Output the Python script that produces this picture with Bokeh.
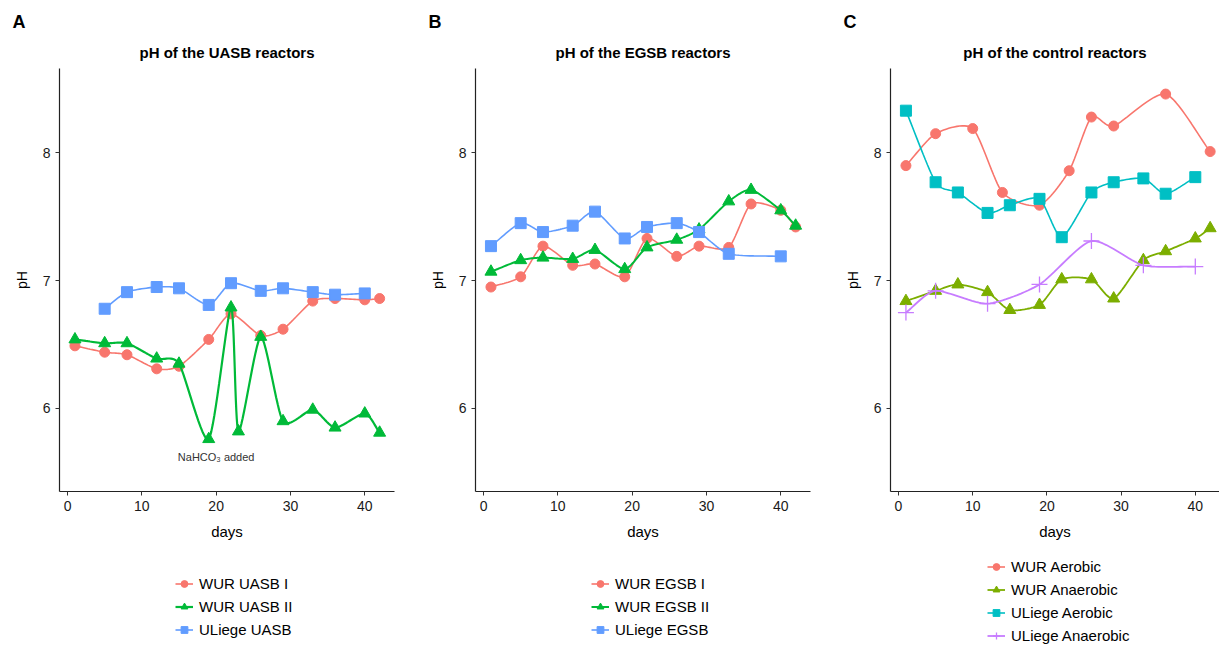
from bokeh.plotting import figure
from bokeh.layouts import row, column
from bokeh.models import Legend, LegendItem, Title, Range1d, FixedTicker, Label
from bokeh.embed import file_html
from bokeh.resources import INLINE
import numpy as np

# ---------------- data ----------------
# Panel A: UASB reactors
a_days_wur1 = [1, 5, 8, 12, 15, 19, 22, 26, 29, 33, 36, 40, 42]
a_ph_wur1 = [6.49, 6.44, 6.42, 6.31, 6.33, 6.54, 6.74, 6.57, 6.62, 6.84, 6.86, 6.85, 6.86]
a_days_wur2 = [1, 5, 8, 12, 15, 19, 22, 23, 26, 29, 33, 36, 40, 42]
a_ph_wur2 = [6.54, 6.51, 6.51, 6.39, 6.35, 5.76, 6.79, 5.82, 6.56, 5.90, 5.99, 5.85, 5.96, 5.81]
a_days_ul = [5, 8, 12, 15, 19, 22, 26, 29, 33, 36, 40]
a_ph_ul = [6.78, 6.91, 6.95, 6.94, 6.81, 6.98, 6.92, 6.94, 6.91, 6.89, 6.90]

# Panel B: EGSB reactors
b_days_wur1 = [1, 5, 8, 12, 15, 19, 22, 26, 29, 33, 36, 40, 42]
b_ph_wur1 = [6.95, 7.03, 7.27, 7.12, 7.13, 7.03, 7.33, 7.19, 7.27, 7.26, 7.60, 7.55, 7.42]
b_days_wur2 = [1, 5, 8, 12, 15, 19, 22, 26, 29, 33, 36, 40, 42]
b_ph_wur2 = [7.07, 7.16, 7.18, 7.17, 7.24, 7.09, 7.26, 7.32, 7.40, 7.62, 7.71, 7.55, 7.43]
b_days_ul = [1, 5, 8, 12, 15, 19, 22, 26, 29, 33, 40]
b_ph_ul = [7.27, 7.45, 7.38, 7.43, 7.54, 7.33, 7.42, 7.45, 7.38, 7.21, 7.19]

# Panel C: control reactors
c_days_wur_aer = [1, 5, 10, 14, 19, 23, 26, 29, 36, 42]
c_ph_wur_aer = [7.90, 8.15, 8.19, 7.69, 7.59, 7.86, 8.28, 8.21, 8.46, 8.01]
c_days_wur_ana = [1, 5, 8, 12, 15, 19, 22, 26, 29, 33, 36, 40, 42]
c_ph_wur_ana = [6.84, 6.92, 6.97, 6.91, 6.77, 6.81, 7.01, 7.01, 6.86, 7.16, 7.23, 7.33, 7.41]
c_days_ul_aer = [1, 5, 8, 12, 15, 19, 22, 26, 29, 33, 36, 40]
c_ph_ul_aer = [8.33, 7.77, 7.69, 7.53, 7.59, 7.64, 7.34, 7.69, 7.77, 7.80, 7.68, 7.81]
c_days_ul_ana = [1, 5, 12, 19, 26, 33, 40]
c_ph_ul_ana = [6.75, 6.92, 6.82, 6.97, 7.31, 7.12, 7.11]

titles = ["pH of the UASB reactors", "pH of the EGSB reactors", "pH of the control reactors"]
letters = ["A", "B", "C"]
x_ticks = [0, 10, 20, 30, 40]
y_ticks = [6, 7, 8]

RED, GREEN, BLUE = "#F8766D", "#00BA38", "#619CFF"
RED4, OLIVE4, CYAN4, PURP4 = "#F8766D", "#7CAE00", "#00BFC4", "#C77CFF"
FONT = "Liberation Sans"

X_PX = 7.42   # px per day (used only for smoothing aspect)
Y_PX = 128.3  # px per pH unit
TOP_H = 551   # height of the chart row
LEG_H = 94    # height of the legend row


def smooth(xs, ys, n=16, k=0.7):
    """Cardinal-spline path through the data points (rendering only)."""
    P = np.column_stack([np.asarray(xs, float) * X_PX, np.asarray(ys, float) * Y_PX])
    if len(P) < 3:
        return list(xs), list(ys)
    ext = np.vstack([2 * P[0] - P[1], P, 2 * P[-1] - P[-2]])
    out = []
    for i in range(1, len(ext) - 2):
        p0, p1, p2, p3 = ext[i - 1], ext[i], ext[i + 1], ext[i + 2]
        m1 = k * (p2 - p0) / 2.0
        m2 = k * (p3 - p1) / 2.0
        for t in np.linspace(0, 1, n, endpoint=False):
            h00 = 2 * t**3 - 3 * t**2 + 1
            h10 = t**3 - 2 * t**2 + t
            h01 = -2 * t**3 + 3 * t**2
            h11 = t**3 - t**2
            out.append(h00 * p1 + h10 * m1 + h01 * p2 + h11 * m2)
    out.append(P[-1])
    out = np.array(out)
    return list(out[:, 0] / X_PX), list(out[:, 1] / Y_PX)


def make_panel(idx, left, frame_w, x_end, right):
    p = figure(frame_width=frame_w, frame_height=423,
               min_border_left=left, min_border_right=right,
               min_border_top=68, min_border_bottom=TOP_H - 68 - 423,
               x_range=Range1d(-1.08, x_end), y_range=Range1d(5.35, 8.66),
               output_backend="svg", toolbar_location=None,
               background_fill_color="white", border_fill_color="white",
               outline_line_color=None)
    p.grid.visible = False
    p.title = Title(text=letters[idx], align="left", offset=-47,
                    text_font=FONT, text_font_size="18px",
                    text_font_style="bold", text_color="#000000", standoff=6)
    p.add_layout(Title(text=titles[idx], align="center", text_font=FONT,
                       text_font_size="15px", text_font_style="bold",
                       text_color="#000000", standoff=15), "above")
    for ax in (p.xaxis[0], p.yaxis[0]):
        ax.axis_line_color = "#222222"
        ax.axis_line_width = 1.2
        ax.major_tick_line_color = "#333333"
        ax.major_tick_in = 0
        ax.major_tick_out = 4
        ax.minor_tick_line_color = None
        ax.major_label_text_font = FONT
        ax.major_label_text_font_size = "14px"
        ax.major_label_text_color = "#1a1a1a"
        ax.axis_label_text_font = FONT
        ax.axis_label_text_font_style = "normal"
        ax.axis_label_text_color = "#000000"
    p.xaxis.ticker = FixedTicker(ticks=x_ticks)
    p.yaxis.ticker = FixedTicker(ticks=y_ticks)
    p.xaxis.axis_label = "days"
    p.xaxis.axis_label_text_font_size = "15px"
    p.xaxis.axis_label_standoff = 9
    p.yaxis.axis_label = "pH"
    p.yaxis.axis_label_text_font_size = "14px"
    p.yaxis.axis_label_standoff = 10
    return p


def draw(p, xs, ys, color, marker, size, lw):
    lr = p.line(xs, ys, line_color=color, line_width=lw)
    if marker == "cross":
        sr = p.scatter(xs, ys, marker="cross", size=size, line_color=color,
                       line_width=1.3)
    else:
        sr = p.scatter(xs, ys, marker=marker, size=size, fill_color=color,
                       line_color=color, line_width=1)
    return lr, sr


def series(p, lf, xs, ys, color, marker, size, lw, label):
    sx, sy = smooth(xs, ys)
    p.line(sx, sy, line_color=color, line_width=lw)
    if marker == "cross":
        p.scatter(xs, ys, marker="cross", size=size, line_color=color, line_width=1.3)
    else:
        p.scatter(xs, ys, marker=marker, size=size, fill_color=color,
                  line_color=color, line_width=1)
    # legend key: style-only proxy (a single NaN row, nothing is plotted)
    nan = np.array([np.nan])
    lr, sr = draw(lf, nan, nan, color, marker, size, lw)
    return LegendItem(label=label, renderers=[lr, sr])


def legend_fig(width):
    lf = figure(width=width, height=LEG_H, x_axis_type=None, y_axis_type=None,
                x_range=Range1d(0, 1), y_range=Range1d(0, 1),
                output_backend="svg", toolbar_location=None, min_border=0,
                outline_line_color=None, background_fill_color="white",
                border_fill_color="white")
    return lf


def add_legend(lf, items, loc):
    leg = Legend(items=items, location=loc, orientation="vertical",
                 label_text_font=FONT, label_text_font_size="15px",
                 label_text_color="#000000", glyph_width=18, glyph_height=17,
                 label_height=17, spacing=6, margin=0, padding=0,
                 border_line_color=None, background_fill_alpha=0,
                 label_standoff=6)
    lf.add_layout(leg, "center")


pA = make_panel(0, 59, 335, 44.0, 21)
lA = legend_fig(415)
items = [series(pA, lA, a_days_wur1, a_ph_wur1, RED, "circle", 10, 1.6, "WUR UASB I"),
         series(pA, lA, a_days_wur2, a_ph_wur2, GREEN, "triangle", 12, 2.2, "WUR UASB II"),
         series(pA, lA, a_days_ul, a_ph_ul, BLUE, "square", 11, 1.6, "ULiege UASB")]
pA.add_layout(Label(x=20, y=5.62, text="NaHCO\u2083 added", text_font=FONT,
                    text_font_size="11px", text_color="#333333",
                    text_align="center", text_baseline="middle"))
add_legend(lA, items, (175, 7))

pB = make_panel(1, 60, 335, 44.0, 21)
lB = legend_fig(416)
items = [series(pB, lB, b_days_wur1, b_ph_wur1, RED, "circle", 10, 1.6, "WUR EGSB I"),
         series(pB, lB, b_days_wur2, b_ph_wur2, GREEN, "triangle", 12, 2.0, "WUR EGSB II"),
         series(pB, lB, b_days_ul, b_ph_ul, BLUE, "square", 11, 1.6, "ULiege EGSB")]
add_legend(lB, items, (176, 7))

pC = make_panel(2, 59, 329, 43.26, 0)
lC = legend_fig(388)
items = [series(pC, lC, c_days_wur_aer, c_ph_wur_aer, RED4, "circle", 10, 1.6, "WUR Aerobic"),
         series(pC, lC, c_days_wur_ana, c_ph_wur_ana, OLIVE4, "triangle", 12, 1.8, "WUR Anaerobic"),
         series(pC, lC, c_days_ul_aer, c_ph_ul_aer, CYAN4, "square", 11, 1.6, "ULiege Aerobic"),
         series(pC, lC, c_days_ul_ana, c_ph_ul_ana, PURP4, "cross", 16, 1.8, "ULiege Anaerobic")]
add_legend(lC, items, (156, 1))

layout = column(row(pA, pB, pC, spacing=0), row(lA, lB, lC, spacing=0), spacing=0)
open("out.html", "w").write(file_html(layout, INLINE))
